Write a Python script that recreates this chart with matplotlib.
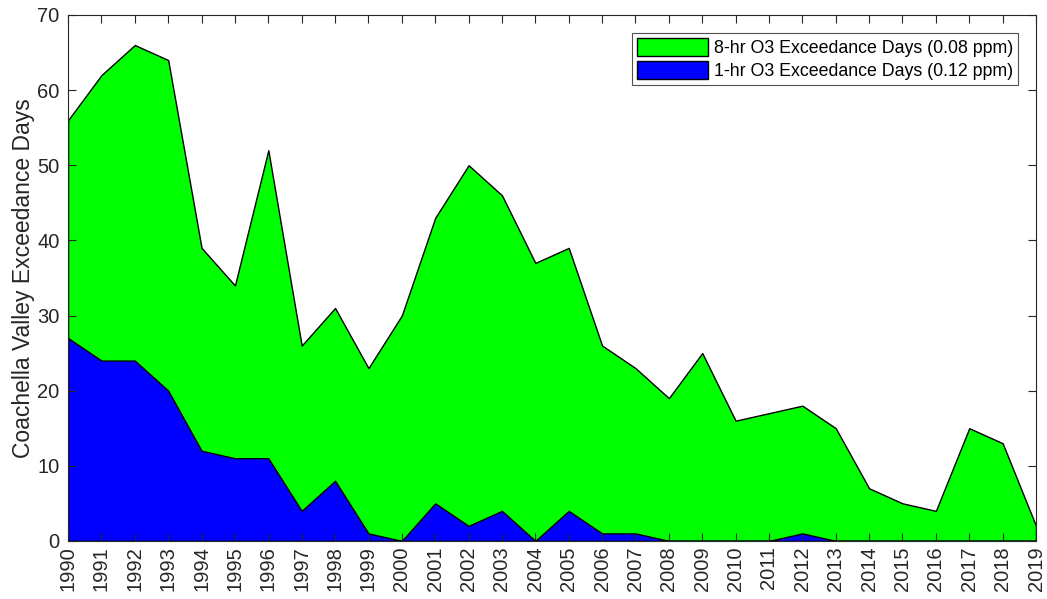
import numpy as np
import matplotlib
matplotlib.use('Agg')
import matplotlib.pyplot as plt

plt.rcParams['font.family'] = ['Liberation Sans', 'DejaVu Sans']

years = list(range(1990, 2020))
days_8hr = [56, 62, 66, 64, 39, 34, 52, 26, 31, 23, 30, 43, 50, 46, 37,
            39, 26, 23, 19, 25, 16, 17, 18, 15, 7, 5, 4, 15, 13, 2]
days_1hr = [27, 24, 24, 20, 12, 11, 11, 4, 8, 1, 0, 5, 2, 4, 0,
            4, 1, 1, 0, 0, 0, 0, 1, 0, 0, 0, 0, 0, 0, 0]
labels = ['8-hr O3 Exceedance Days (0.08 ppm)', '1-hr O3 Exceedance Days (0.12 ppm)']

fig = plt.figure(figsize=(10.47, 5.99), dpi=100)
ax = fig.add_axes([0.065, 0.097, 0.9245, 0.878])

ax.fill_between(years, 0, days_8hr, facecolor='#00ff00', edgecolor='black', linewidth=1, label=labels[0])
ax.fill_between(years, 0, days_1hr, facecolor='#0000ff', edgecolor='black', linewidth=1, label=labels[1])

ax.set_xlim(1990, 2019)
ax.set_ylim(0, 70)
ax.set_xticks(years)
ax.set_xticklabels([str(y) for y in years], rotation=90)
ax.set_yticks(range(0, 71, 10))
ax.tick_params(direction='in', top=True, right=True, length=6, width=0.8,
               colors='#262626', labelsize=14.5)
ax.tick_params(axis='x', pad=4)
ax.tick_params(axis='y', pad=6)
for sp in ax.spines.values():
    sp.set_color('#262626')
    sp.set_linewidth(0.8)
ax.set_ylabel('Coachella Valley Exceedance Days', fontsize=16.5, color='#262626', labelpad=2)

leg = ax.legend(loc='upper right', fontsize=12.8, frameon=True, fancybox=False,
                edgecolor='#262626', handlelength=4.0, handleheight=1.2,
                borderaxespad=1.0, borderpad=0.3, labelspacing=0.2, handletextpad=0.3)
leg.get_frame().set_linewidth(0.8)

fig.savefig('out.png', dpi=100)
